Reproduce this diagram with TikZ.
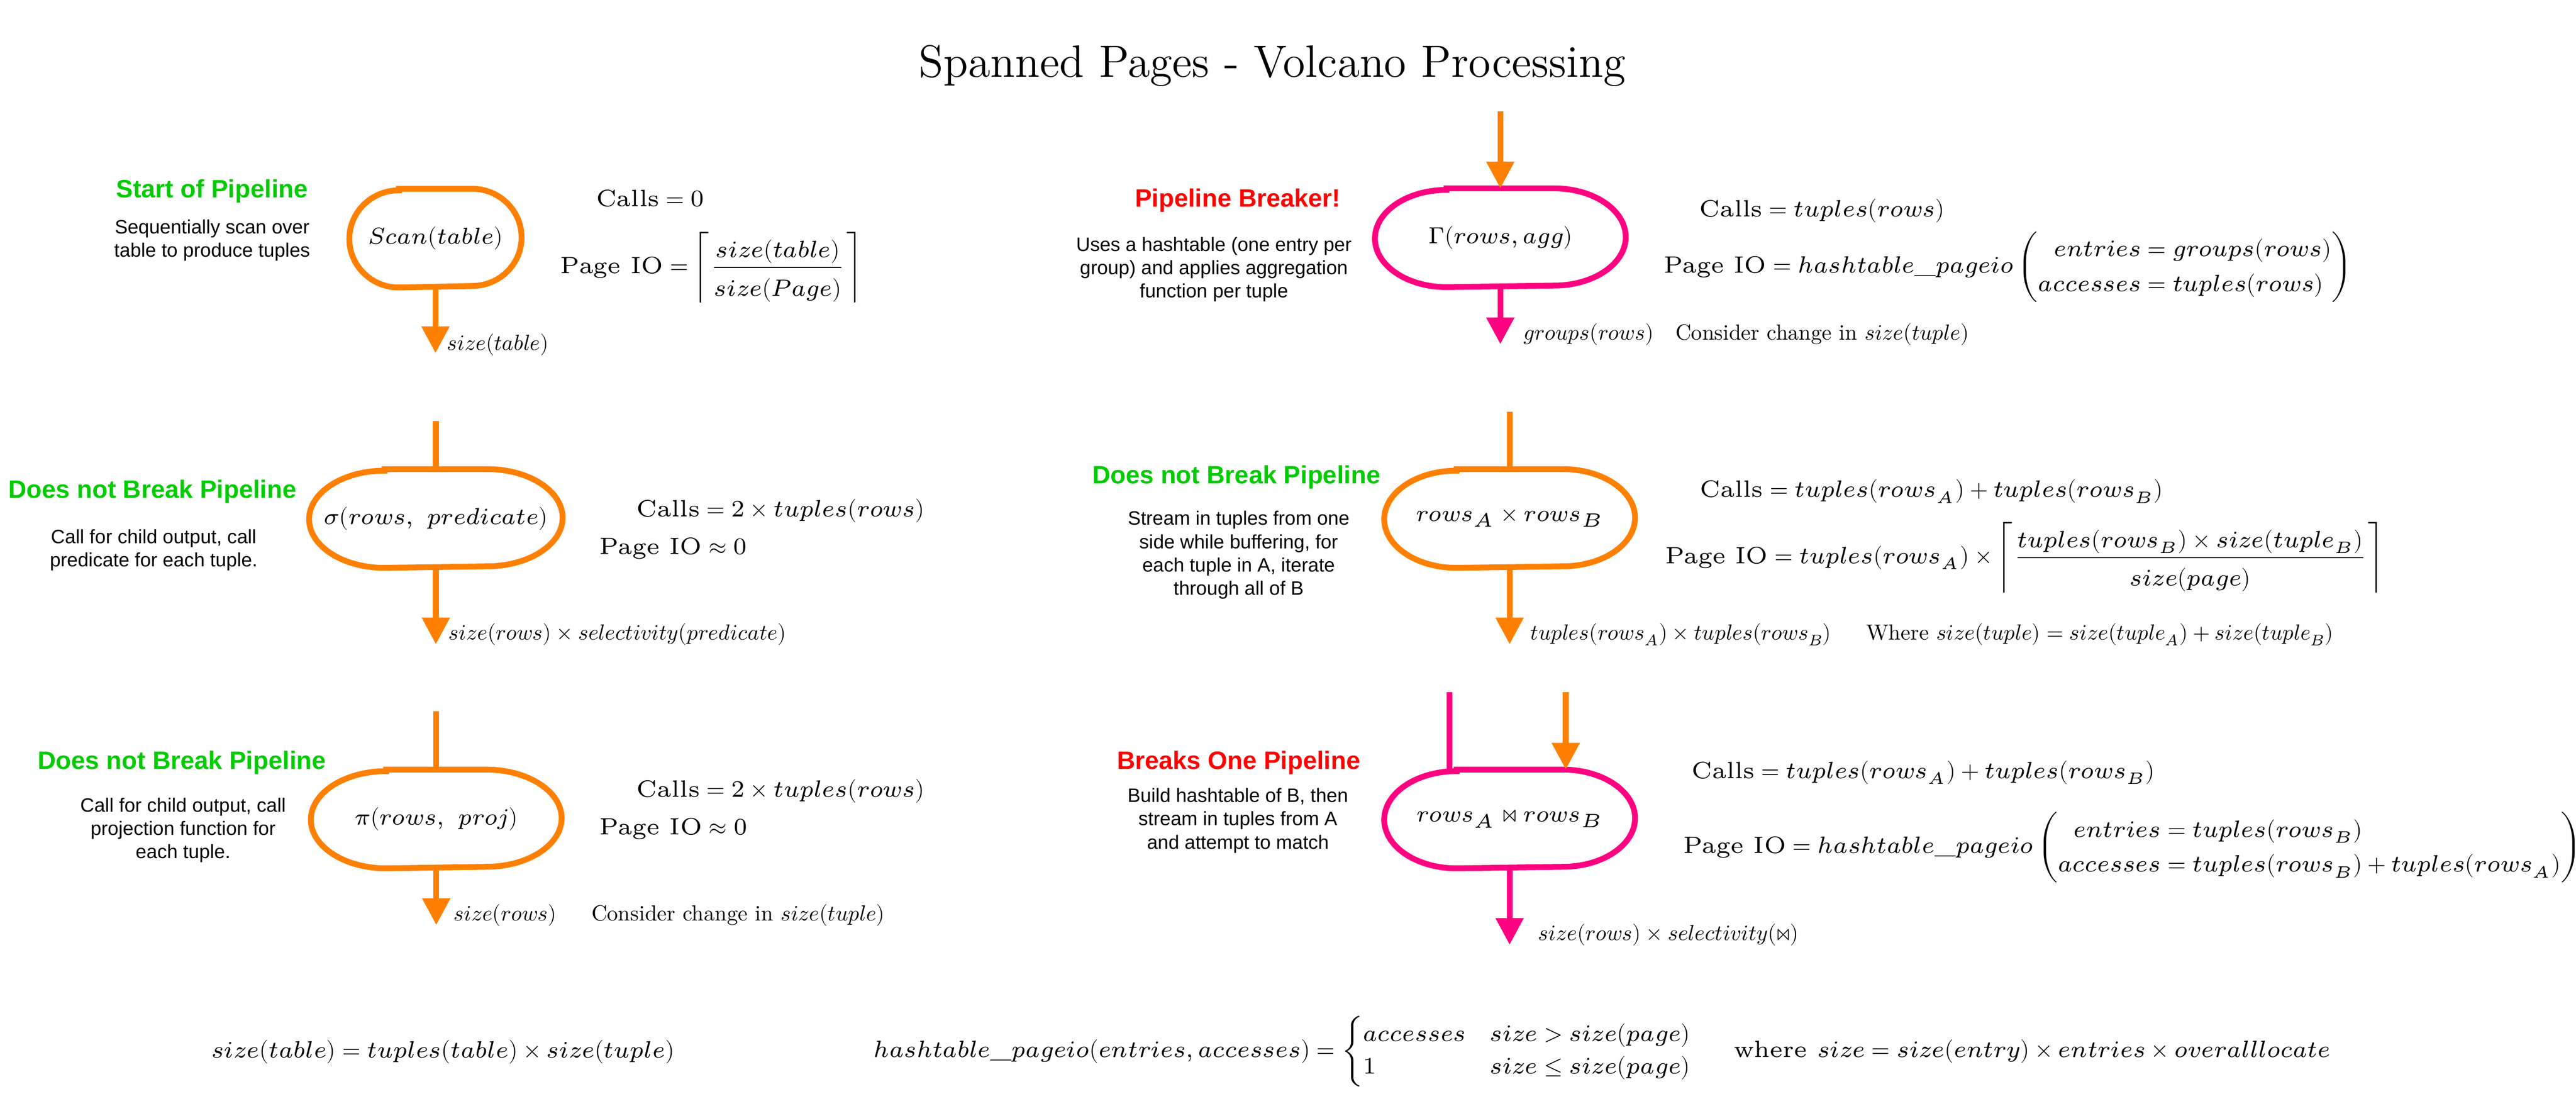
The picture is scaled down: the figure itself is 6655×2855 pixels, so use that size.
\documentclass[tikz,border=0pt]{standalone}
\usepackage{amsmath}
\usepackage{graphicx}
\usepackage{fontspec}
\usepackage{unicode-math}
\setmathfont{Latin Modern Math}
\newfontfamily\arial{Liberation Sans}
\usetikzlibrary{arrows.meta,calc}
\definecolor{opor}{RGB}{255,128,0}
\definecolor{oppk}{RGB}{255,0,128}
\definecolor{gn}{RGB}{0,204,0}
\definecolor{rd}{RGB}{255,0,0}
\setlength{\jot}{0pt}
\newcommand\denstrut{\rule{0pt}{6.5pt}}
\newcommand\lbl[1]{\scalebox{0.565}{\fontsize{10}{12}\selectfont #1}}
\newcommand\stadium[4]{% node, x radius, y radius, colour
  \draw[flow,#4] ($(#1.north west)+(#2,0pt)$) -- ($(#1.north east)+(-#2,0pt)$)
    arc[start angle=90,end angle=-90,x radius=#2,y radius=#3]
    -- ($(#1.south west)+(#2,0pt)$)
    arc[start angle=270,end angle=90,x radius=#2,y radius=#3] -- cycle;}
\tikzset{
  titletext/.style={font=\fontsize{11.7}{14}\selectfont, anchor=base, inner sep=0pt},
  head/.style={font=\arial\bfseries\fontsize{6.5}{7.8}\selectfont, anchor=base, inner sep=0pt},
  greenhead/.style={head, text=gn},
  redhead/.style={head, text=rd},
  desc/.style={font=\arial\fontsize{5}{6}\selectfont, align=center, anchor=north, inner sep=0pt},
  formula/.style={font=\fontsize{6.1}{9}\selectfont, anchor=base west, inner sep=0pt},
  elabel/.style={anchor=base west, inner sep=0pt},
  op/.style={draw=none, inner sep=0pt, minimum height=25.1pt, minimum width=64.4pt, font=\fontsize{6}{7.2}\selectfont},
  flow/.style={line width=1.5pt},
  tip/.style={-{Triangle[length=6.9pt,width=6.9pt]}},
}
\begin{document}
\begin{tikzpicture}[x=0.1pt,y=-0.1pt]
\useasboundingbox (0,0) rectangle (6655,2855);
\node[titletext] (title) at (3287,199) {Spanned Pages - Volcano Processing};

% ---------- Scan ----------
\node[greenhead] (h1) at (548,511) {Start of Pipeline};
\node[desc] (d1) at (548,565) {Sequentially scan over\\table to produce tuples};
\node[op, minimum width=44.1pt] (scan) at (1125,615) {$Scan(table)$};
\stadium{scan}{12.8pt}{12.55pt}{opor}
\node[formula] (c1) at (1538,533) {$\text{Calls} = 0$};
\node[formula] (p1) at (1446,706) {$\text{Page IO} = \left\lceil\dfrac{size(table)}{\denstrut size(Page)}\right\rceil$};
\coordinate (scanout) at (1125,912);
\draw[flow,opor,tip] (scan.south) -- (scanout);
\node[elabel] (l1) at (1153,904) {\lbl{$size(table)$}};

% ---------- Gamma ----------
\node[redhead] (h2) at (3198,535) {Pipeline Breaker!};
\node[desc] (d2) at (3136,610) {Uses a hashtable (one entry per\\group) and applies aggregation\\function per tuple};
\coordinate (gin) at (3876,288);
\node[op] (gam) at (3876,614) {$\Gamma(rows, agg)$};
\stadium{gam}{18.5pt}{12.55pt}{oppk}
\draw[flow,opor,tip] (gin) -- (gam.north);
\node[formula] (c2) at (4388,560) {$\text{Calls} = tuples(rows)$};
\node[formula] (p2) at (4296,705) {$\text{Page IO} = hashtable\_pageio\left(\begin{aligned} entries &= groups(rows)\\ accesses &= tuples(rows)\end{aligned}\right)$};
\coordinate (gout) at (3876,889);
\draw[flow,oppk,tip] (gam.south) -- (gout);
\node[elabel] (l2) at (3934,878) {\lbl{$groups(rows)\hspace{10pt}\text{Consider change in } size(tuple)$}};

% ---------- Sigma ----------
\node[greenhead] (h3) at (394,1286) {Does not Break Pipeline};
\node[desc] (d3) at (397,1365) {Call for child output, call\\predicate for each tuple.};
\coordinate (sin) at (1126,1088);
\node[op, minimum width=65.1pt] (sig) at (1126,1339) {$\sigma(rows,\ predicate)$};
\stadium{sig}{19.5pt}{12.55pt}{opor}
\draw[flow,opor] (sin) -- (sig.north);
\node[formula] (c3) at (1643,1334) {$\text{Calls} = 2\times tuples(rows)$};
\node[formula] (p3) at (1546,1432) {$\text{Page IO} \approx 0$};
\coordinate (sout) at (1126,1664);
\draw[flow,opor,tip] (sig.south) -- (sout);
\node[elabel] (l3) at (1157,1653) {\lbl{$size(rows)\times selectivity(predicate)$}};

% ---------- Cross product ----------
\node[greenhead] (h4) at (3194,1249) {Does not Break Pipeline};
\node[desc] (d4) at (3200,1318) {Stream in tuples from one\\side while buffering, for\\each tuple in A, iterate\\through all of B};
\coordinate (xin) at (3900,1063);
\node[op] (cross) at (3900,1339) {$rows_A\times rows_B$};
\stadium{cross}{18.7pt}{12.55pt}{opor}
\draw[flow,opor] (xin) -- (cross.north);
\node[formula] (c4) at (4390,1284) {$\text{Calls} = tuples(rows_A) + tuples(rows_B)$};
\node[formula] (p4) at (4300,1455) {$\text{Page IO} = tuples(rows_A)\times\left\lceil\dfrac{tuples(rows_B)\times size(tuple_B)}{\denstrut size(page)}\right\rceil$};
\coordinate (xout) at (3900,1664);
\draw[flow,opor,tip] (cross.south) -- (xout);
\node[elabel] (l4) at (3952,1653) {\lbl{$tuples(rows_A)\times tuples(rows_B)\hspace{16pt}\text{Where } size(tuple) = size(tuple_A) + size(tuple_B)$}};

% ---------- Pi ----------
\node[greenhead] (h5) at (470,1986) {Does not Break Pipeline};
\node[desc] (d5) at (473,2059) {Call for child output, call\\projection function for\\each tuple.};
\coordinate (pin) at (1127,1837);
\node[op] (proj) at (1127,2115) {$\pi(rows,\ proj)$};
\stadium{proj}{19.5pt}{12.55pt}{opor}
\draw[flow,opor] (pin) -- (proj.north);
\node[formula] (c5) at (1643,2059) {$\text{Calls} = 2\times tuples(rows)$};
\node[formula] (p5) at (1547,2156) {$\text{Page IO} \approx 0$};
\coordinate (pout) at (1127,2389);
\draw[flow,opor,tip] (proj.south) -- (pout);
\node[elabel] (l5) at (1170,2378) {\lbl{$size(rows)\hspace{16pt}\text{Consider change in } size(tuple)$}};

% ---------- Hash join ----------
\node[redhead] (h6) at (3200,1986) {Breaks One Pipeline};
\node[desc] (d6) at (3198,2034) {Build hashtable of B, then\\stream in tuples from A\\and attempt to match};
\coordinate (jinA) at (3745,1787);
\coordinate (jinB) at (4045,1787);
\node[op] (join) at (3900,2115) {$rows_A\bowtie rows_B$};
\stadium{join}{18.7pt}{12.55pt}{oppk}
\draw[flow,oppk] (jinA) -- (jinA |- join.north);
\draw[flow,opor,tip] (jinB) -- (jinB |- join.north);
\node[formula] (c6) at (4368,2010) {$\text{Calls} = tuples(rows_A) + tuples(rows_B)$};
\node[formula] (p6) at (4347,2204) {$\text{Page IO} = hashtable\_pageio\left(\begin{aligned} entries &= tuples(rows_B)\\ accesses &= tuples(rows_B) + tuples(rows_A)\end{aligned}\right)$};
\coordinate (jout) at (3900,2440);
\draw[flow,oppk,tip] (join.south) -- (jout);
\node[elabel] (l6) at (3972,2428) {\lbl{$size(rows)\times selectivity(\bowtie)$}};

% ---------- Bottom formulas ----------
\node[formula] (f1) at (544,2732) {$size(table) = tuples(table)\times size(tuple)$};
\node[formula, font=\fontsize{6.1}{8.3}\selectfont] (f2) at (2255,2730) {$hashtable\_pageio(entries, accesses) = \left\{\begin{array}{@{}l@{\quad}l@{}} accesses & size > size(page)\\ 1 & size \le size(page)\end{array}\right.\hspace{9pt}\text{where } size = size(entry)\times entries\times overalllocate$};
\end{tikzpicture}
\end{document}
